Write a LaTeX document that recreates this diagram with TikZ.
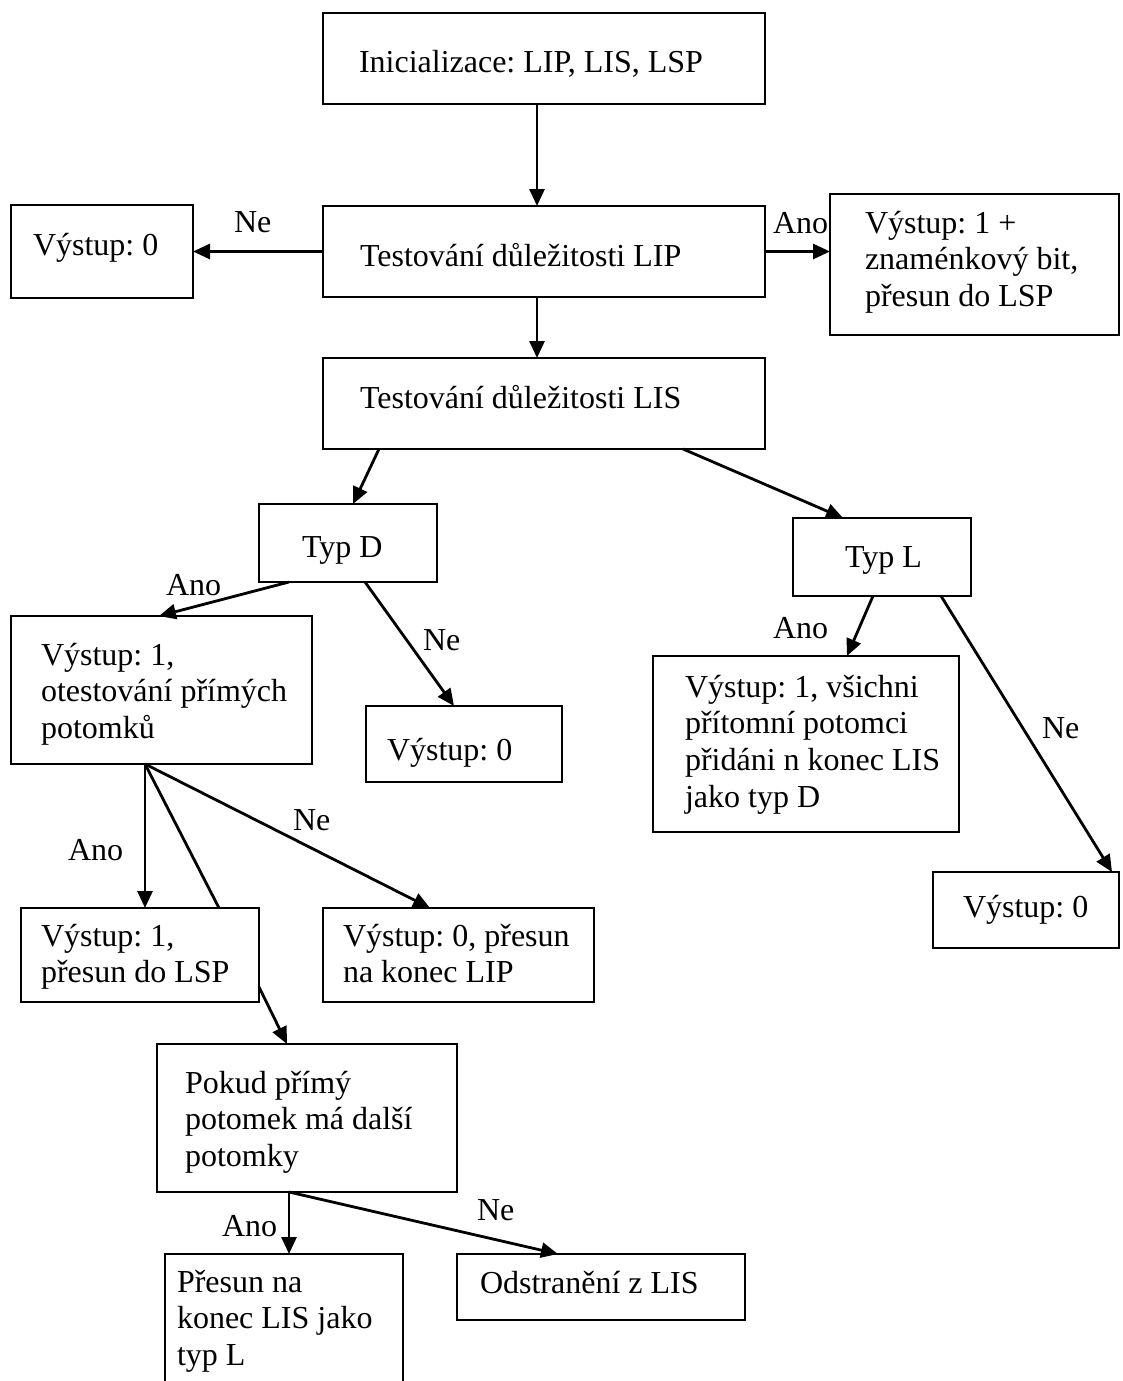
\documentclass[tikz,border=0pt]{standalone}
\usepackage{fontspec}
\setmainfont{Liberation Serif}
\usetikzlibrary{arrows.meta,calc}
\frenchspacing
\newcommand{\mlines}[1]{\begin{tabular}[t]{@{}l@{}}#1\end{tabular}}
\begin{document}
\begin{tikzpicture}[x=1pt,y=-1pt,
  box/.style={draw, line width=2.8pt, inner sep=0pt, outer sep=0pt, anchor=north west},
  txt/.style={anchor=base west, inner sep=0pt, outer sep=0pt, font=\fontsize{32}{36.8}\selectfont\frenchspacing},
  arr/.style={line width=2.8pt, -{Triangle[length=17pt,width=15pt]}},
  ln/.style={line width=2.8pt}]
\useasboundingbox (0,0) rectangle (1122,1381);
\clip (0,0) rectangle (1122,1381);

% boxes
\node[box, minimum width=442pt, minimum height=91pt] (init) at (323,13) {};
\node[box, minimum width=442pt, minimum height=91pt] (lip) at (323,206) {};
\node[box, minimum width=182pt, minimum height=93pt] (v0a) at (11,205) {};
\node[box, minimum width=289pt, minimum height=141pt] (v1a) at (830,194) {};
\node[box, minimum width=442pt, minimum height=91pt] (lis) at (323,358) {};
\node[box, minimum width=178pt, minimum height=78pt] (typd) at (259,504) {};
\node[box, minimum width=178pt, minimum height=78pt] (typl) at (793,518) {};
\node[box, minimum width=301pt, minimum height=148pt] (pot) at (11,616) {};
\node[box, minimum width=196pt, minimum height=76pt] (v0b) at (366,706) {};
\node[box, minimum width=306pt, minimum height=176pt] (vsich) at (653,656) {};
\node[box, minimum width=186pt, minimum height=76pt] (v0c) at (933,872) {};
\node[box, minimum width=238pt, minimum height=94pt] (lsp) at (21,908) {};
\node[box, minimum width=271pt, minimum height=94pt] (lipend) at (323,908) {};
\node[box, minimum width=300pt, minimum height=148pt] (pokud) at (157,1044) {};
\node[box, minimum width=238pt, minimum height=160pt] (lisend) at (165,1254) {};
\node[box, minimum width=288pt, minimum height=66pt] (odstr) at (457,1254) {};

% texts
\node[txt] (t-init) at (359,72) {Inicializace: LIP, LIS, LSP};
\node[txt] (t-lip) at (360,266) {Testování důležitosti LIP};
\node[txt] (t-lis) at (360,408) {Testování důležitosti LIS};
\node[txt] (t-v0a) at (33,255) {Výstup: 0};
\node[txt] (t-v1a) at (865,233) {\mlines{Výstup: 1 +\\znaménkový bit,\\přesun do LSP}};
\node[txt] (t-typd) at (302,557) {Typ D};
\node[txt] (t-typl) at (845,567) {Typ L};
\node[txt] (t-pot) at (41,665) {\mlines{Výstup: 1,\\otestování přímých\\potomků}};
\node[txt] (t-v0b) at (387,760) {Výstup: 0};
\node[txt] (t-vsich) at (685,697) {\mlines{Výstup: 1, všichni\\přítomní potomci\\přidáni n konec LIS\\jako typ D}};
\node[txt] (t-v0c) at (963,917) {Výstup: 0};
\node[txt] (t-lsp) at (41,946) {\mlines{Výstup: 1,\\přesun do LSP}};
\node[txt] (t-lipend) at (343,946) {\mlines{Výstup: 0, přesun\\na konec LIP}};
\node[txt] (t-pokud) at (185,1093) {\mlines{Pokud přímý\\potomek má další\\potomky}};
\node[txt] (t-lisend) at (177,1292) {\mlines{Přesun na\\konec LIS jako\\typ L}};
\node[txt] (t-odstr) at (480,1293) {Odstranění z LIS};

% edge labels
\node[txt] (l-ne1) at (234,232) {Ne};
\node[txt] (l-ano1) at (773,233) {Ano};
\node[txt] (l-ano2) at (166,595) {Ano};
\node[txt] (l-ne2) at (423,650) {Ne};
\node[txt] (l-ano3) at (773,638) {Ano};
\node[txt] (l-ne3) at (1042,738) {Ne};
\node[txt] (l-ano4) at (68,860) {Ano};
\node[txt] (l-ne4) at (293,830) {Ne};
\node[txt] (l-ano5) at (222,1236) {Ano};
\node[txt] (l-ne5) at (477,1220) {Ne};

% connectors
\draw[arr] ($(init.south west)+(214,0)$) -- ($(lip.north west)+(214,0)$);
\draw[arr] (lip.west) -- (lip.west -| v0a.east);
\draw[arr] (lip.east) -- (lip.east -| v1a.west);
\draw[arr] ($(lip.south west)+(214,0)$) -- ($(lis.north west)+(214,0)$);
\draw[arr] ($(lis.south west)+(56,0)$) -- ($(typd.north west)+(94,0)$);
\draw[arr] ($(lis.south west)+(360,0)$) -- ($(typl.north west)+(50,0)$);
\draw[arr] ($(typd.south west)+(30,0)$) -- ($(pot.north west)+(148,0)$);
\draw[arr] ($(typd.south west)+(106,0)$) -- ($(v0b.north west)+(88,0)$);
\draw[arr] ($(typl.south west)+(80,0)$) -- ($(vsich.north west)+(194,0)$);
\draw[arr] ($(typl.south west)+(148,0)$) -- ($(v0c.north west)+(179,0)$);
\coordinate (j) at ($(pot.south west)+(134,0)$);
\draw[arr] (j) -- ($(lsp.north west)+(124,0)$);
\draw[ln] (j) -- ($(lsp.north west)+(198,0)$);
\draw[arr] (j) -- ($(lipend.north west)+(107,0)$);
\draw[arr] ($(lsp.north east)+(0,79)$) -- ($(pokud.north west)+(130,0)$);
\coordinate (k) at ($(pokud.south west)+(132,0)$);
\draw[arr] (k) -- ($(lisend.north west)+(124,0)$);
\draw[arr] (k) -- ($(odstr.north west)+(101,0)$);
\end{tikzpicture}
\end{document}
